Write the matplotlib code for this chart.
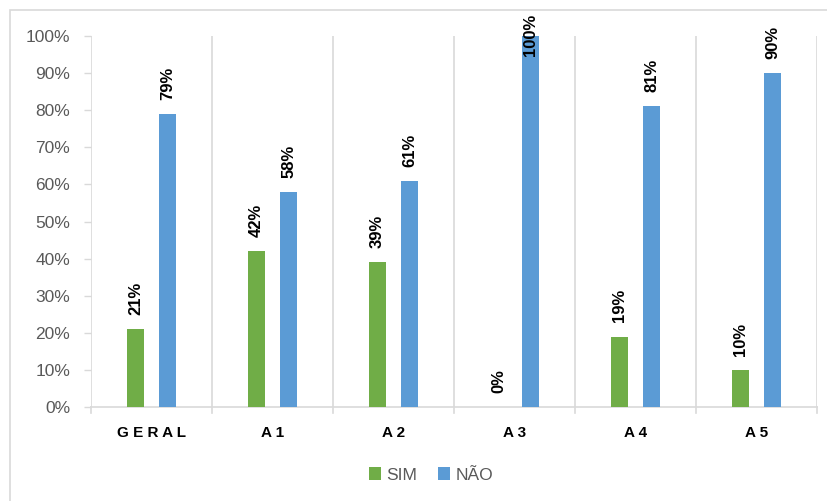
import matplotlib
matplotlib.use("Agg")
import matplotlib.pyplot as plt
from matplotlib.patches import Rectangle
import numpy as np

categories = ["G E R A L", "A 1", "A 2", "A 3", "A 4", "A 5"]
sim = [21, 42, 39, 0, 19, 10]
nao = [79, 58, 61, 100, 81, 90]
series_names = ["SIM", "NÃO"]
colors = ["#70AD47", "#5B9BD5"]

plt.rcParams['font.family'] = ['Liberation Sans', 'DejaVu Sans']

fig = plt.figure(figsize=(8.28, 5.01), dpi=100)
fig.patches.append(Rectangle((10/828, -0.1), 1.2, (501-10)/501 + 0.1,
                             transform=fig.transFigure, fill=False,
                             edgecolor="#D9D9D9", linewidth=1.2))
ax = fig.add_axes([91/828, 1-407/501, (817-91)/828, (407-36)/501])

x = np.arange(len(categories))
w = 0.135
off = 0.133
b1 = ax.bar(x - off, sim, w, color=colors[0], label=series_names[0], zorder=3)
b2 = ax.bar(x + off, nao, w, color=colors[1], label=series_names[1], zorder=3)

for bars, vals in ((b1, sim), (b2, nao)):
    for rect, v in zip(bars, vals):
        cx = rect.get_x() + rect.get_width()/2
        y = v + 3.8
        va = 'bottom'
        if v >= 95:
            y = 106
            va = 'top'
        ax.text(cx, y, f"{v}%", rotation=90, ha='center', va=va,
                fontsize=12, fontweight='bold', color='#000000', zorder=4)

ax.set_xlim(-0.5, len(categories) - 0.5)
ax.set_ylim(0, 100)
ax.set_yticks(np.arange(0, 101, 10))
ax.set_yticklabels([f"{t}%" for t in range(0, 101, 10)])
ax.tick_params(axis='y', labelsize=12.5, labelcolor='#595959', color='#D9D9D9',
               length=5, width=1, pad=10)
ax.set_xticks(x)
ax.set_xticklabels(categories, fontweight='bold', fontsize=11)
ax.tick_params(axis='x', length=0, pad=14, labelcolor='#000000')

for sep in np.arange(-0.5, len(categories), 1.0):
    ax.axvline(sep, color='#D9D9D9', linewidth=1.2, zorder=1)
    ax.plot([sep, sep], [0, -1.5], color='#D9D9D9', linewidth=1.2,
            clip_on=False, zorder=1)

for s in ['top', 'right', 'left']:
    ax.spines[s].set_visible(False)
ax.spines['bottom'].set_color('#D9D9D9')
ax.spines['bottom'].set_linewidth(1.2)

leg = fig.legend(loc='center', bbox_to_anchor=(431/828, 1-475/501), ncol=2,
                 frameon=False, fontsize=12.5, handlelength=0.7, handleheight=0.7,
                 handletextpad=0.3, columnspacing=1.2)
for t in leg.get_texts():
    t.set_color('#595959')

fig.savefig("out.png", dpi=100)
